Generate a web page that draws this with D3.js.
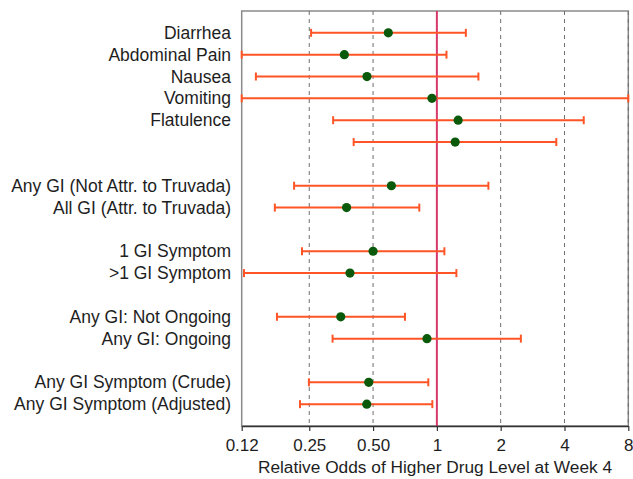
<!DOCTYPE html>
<html>
<head>
<meta charset="utf-8">
<script src="https://cdn.jsdelivr.net/npm/d3@7"></script>
<style>
  body { margin: 0; background: #fff; }
  text { font-family: "Liberation Sans", Arial, Helvetica, sans-serif; fill: #1e1e1e; }
</style>
</head>
<body>
<svg id="chart" width="633" height="479"></svg>
<script>
// rows of the forest plot; gaps between groups come from rowIndex
const categories = [
  'Diarrhea', 'Abdominal Pain', 'Nausea', 'Vomiting', 'Flatulence', '',
  'Any GI (Not Attr. to Truvada)', 'All GI (Attr. to Truvada)',
  '1 GI Symptom', '>1 GI Symptom',
  'Any GI: Not Ongoing', 'Any GI: Ongoing',
  'Any GI Symptom (Crude)', 'Any GI Symptom (Adjusted)'
];
const rowIndex = [0, 1, 2, 3, 4, 5, 7, 8, 10, 11, 13, 14, 16, 17];
const estimate = [0.59, 0.366, 0.468, 0.948, 1.26, 1.22, 0.61, 0.375, 0.50, 0.389, 0.352, 0.898, 0.477, 0.467];
const lower    = [0.255, 0.12, 0.140, 0.12, 0.324, 0.405, 0.212, 0.172, 0.231, 0.123, 0.176, 0.322, 0.249, 0.226];
const upper    = [1.37, 1.11, 1.57, 8, 4.93, 3.66, 1.75, 0.826, 1.085, 1.236, 0.707, 2.49, 0.911, 0.952];
const tickValues = [0.12, 0.25, 0.5, 1, 2, 4, 8];
const tickLabels = ['0.12', '0.25', '0.50', '1', '2', '4', '8'];
const gridValues = [0.25, 0.5, 2, 4, 8];

const rows = categories.map((name, i) => ({
  name: name,
  row: rowIndex[i],
  est: estimate[i],
  lo: lower[i],
  hi: upper[i]
}));

const svg = d3.select('#chart');
const plot = { left: 241.7, right: 628.3, top: 11, bottom: 426 };

const x = d3.scaleLog()
  .domain([0.12, 8])
  .range([plot.left, plot.right]);
const y = d3.scaleLinear()
  .domain([-1, 18])
  .range([plot.top, plot.bottom]);

// frame
svg.append('rect')
  .attr('x', plot.left)
  .attr('y', plot.top)
  .attr('width', plot.right - plot.left)
  .attr('height', plot.bottom - plot.top)
  .style('fill', 'none')
  .style('stroke', '#8a8a8a')
  .style('stroke-width', 1.5);

// dashed grid
svg.selectAll('.grid')
  .data(gridValues)
  .enter().append('line')
  .attr('class', 'grid')
  .attr('x1', d => x(d))
  .attr('x2', d => x(d))
  .attr('y1', plot.top)
  .attr('y2', plot.bottom)
  .style('stroke', '#6e6e6e')
  .style('stroke-width', 1)
  .style('stroke-dasharray', '4,4');

// reference line at 1
svg.append('line')
  .attr('x1', x(1))
  .attr('x2', x(1))
  .attr('y1', plot.top)
  .attr('y2', plot.bottom)
  .style('stroke', '#d8386a')
  .style('stroke-width', 2);

// x axis
const xAxis = d3.axisBottom(x)
  .tickValues(tickValues)
  .tickFormat((d, i) => tickLabels[i])
  .tickSizeInner(5)
  .tickSizeOuter(0)
  .tickPadding(8);

const xAxisG = svg.append('g')
  .attr('transform', `translate(0,${plot.bottom})`)
  .call(xAxis);
xAxisG.select('.domain').style('stroke', '#333').style('stroke-width', 1.5);
xAxisG.selectAll('.tick line').style('stroke', '#333').style('stroke-width', 1.2);
xAxisG.selectAll('.tick text')
  .style('font-size', '17px')
  .style('font-family', '"Liberation Sans", Arial, sans-serif')
  .style('fill', '#1e1e1e');

svg.append('text')
  .attr('x', (plot.left + plot.right) / 2)
  .attr('y', 473)
  .attr('text-anchor', 'middle')
  .style('font-size', '17.3px')
  .text('Relative Odds of Higher Drug Level at Week 4');

// row labels
svg.selectAll('.row-label')
  .data(rows)
  .enter().append('text')
  .attr('class', 'row-label')
  .attr('x', 231)
  .attr('y', d => y(d.row))
  .attr('dy', '0.35em')
  .attr('text-anchor', 'end')
  .style('font-size', '17.5px')
  .text(d => d.name);

// confidence intervals
const ci = svg.selectAll('.ci')
  .data(rows)
  .enter().append('g')
  .attr('class', 'ci')
  .style('stroke', '#ff5526')
  .style('stroke-width', 2);

ci.append('line')
  .attr('x1', d => x(d.lo))
  .attr('x2', d => x(d.hi))
  .attr('y1', d => y(d.row))
  .attr('y2', d => y(d.row));
ci.append('line')
  .attr('x1', d => x(d.lo))
  .attr('x2', d => x(d.lo))
  .attr('y1', d => y(d.row) - 4)
  .attr('y2', d => y(d.row) + 4);
ci.append('line')
  .attr('x1', d => x(d.hi))
  .attr('x2', d => x(d.hi))
  .attr('y1', d => y(d.row) - 4)
  .attr('y2', d => y(d.row) + 4);

// point estimates
svg.selectAll('.point')
  .data(rows)
  .enter().append('circle')
  .attr('class', 'point')
  .attr('cx', d => x(d.est))
  .attr('cy', d => y(d.row))
  .attr('r', 4.6)
  .style('fill', '#0b5a0b');
</script>
</body>
</html>
